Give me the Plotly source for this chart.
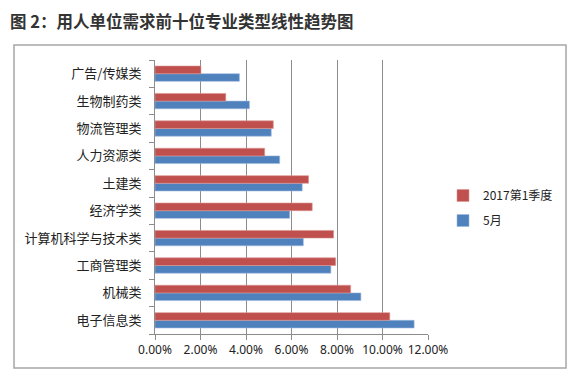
import plotly.graph_objects as go

categories = ["电子信息类", "机械类", "工商管理类", "计算机科学与技术类", "经济学类",
              "土建类", "人力资源类", "物流管理类", "生物制药类", "广告/传媒类"]
q1_2017 = [0.1032, 0.0860, 0.0794, 0.0785, 0.0691, 0.0675, 0.0482, 0.0520, 0.0311, 0.0202]
may = [0.1139, 0.0905, 0.0773, 0.0652, 0.0592, 0.0647, 0.0548, 0.0511, 0.0415, 0.0371]
x_ticks = [0, 0.02, 0.04, 0.06, 0.08, 0.10, 0.12]
series_names = ["2017第1季度", "5月"]

RED = "#C0504D"
BLUE = "#4F81BD"
CJK = "Noto Sans CJK SC"

fig = go.Figure()
fig.add_trace(go.Bar(
    y=categories, x=may, name=series_names[1], orientation="h",
    marker=dict(color=BLUE, line=dict(color="#9DB9DD", width=0.6)),
    legendgroup="b", legendrank=2,
))
fig.add_trace(go.Bar(
    y=categories, x=q1_2017, name=series_names[0], orientation="h",
    marker=dict(color=RED, line=dict(color="#DA9694", width=0.6)),
    legendgroup="a", legendrank=1,
))

# page body adds an 8px offset; figure coords = reference coords - 8
OFF = 8
W, H = 575 - OFF, 377 - OFF
L = 155 - OFF
R = W - (428 - OFF)
T = 60 - OFF
B = H - (334 - OFF)
pw = W - L - R
ph = H - T - B

def px_x(x):
    return (x - OFF - L) / pw

def px_y(y):
    return (H - B - (y - OFF)) / ph

fig.update_layout(
    width=W, height=H,
    margin=dict(l=L, r=R, t=T, b=B, autoexpand=False),
    paper_bgcolor="white", plot_bgcolor="white",
    barmode="group", bargap=0.44, bargroupgap=0,
    font=dict(family=CJK, size=12, color="#222222"),
    title=dict(text="<b>图 2：用人单位需求前十位专业类型线性趋势图</b>",
               x=(10 - OFF) / W, xanchor="left", xref="container",
               y=1 - (22 - OFF) / H, yanchor="middle", yref="container",
               font=dict(family=CJK, size=16.5, color="#333333")),
    xaxis=dict(
        range=[0, 0.12], tickvals=x_ticks, tickformat=".2%",
        showgrid=True, gridcolor="#8C8C8C", gridwidth=1,
        showline=True, linecolor="#8C8C8C", linewidth=1,
        ticks="outside", ticklen=5, tickcolor="#8C8C8C",
        tickfont=dict(family="Noto Sans", size=12, color="#222222"),
        zeroline=False, fixedrange=True, automargin=False,
    ),
    yaxis=dict(
        categoryorder="array", categoryarray=categories,
        showline=True, linecolor="#8C8C8C", linewidth=1,
        ticks="outside", ticklen=5, tickcolor="#8C8C8C", tickson="boundaries",
        tickfont=dict(family=CJK, size=13, color="#222222"),
        showgrid=False, ticklabelstandoff=10, automargin=False,
    ),
    legend=dict(
        x=px_x(443), xanchor="left", y=px_y(208), yanchor="middle",
        traceorder="grouped", tracegroupgap=6,
        font=dict(family=CJK, size=12, color="#222222"),
        bgcolor="rgba(0,0,0,0)", itemwidth=30,
    ),
    shapes=[dict(
        type="rect", xref="paper", yref="paper",
        x0=px_x(14), x1=px_x(566), y0=px_y(368), y1=px_y(45),
        line=dict(color="#A6A6A6", width=1.5), fillcolor="rgba(0,0,0,0)", layer="below",
    )],
)

fig.write_html("out.html")
